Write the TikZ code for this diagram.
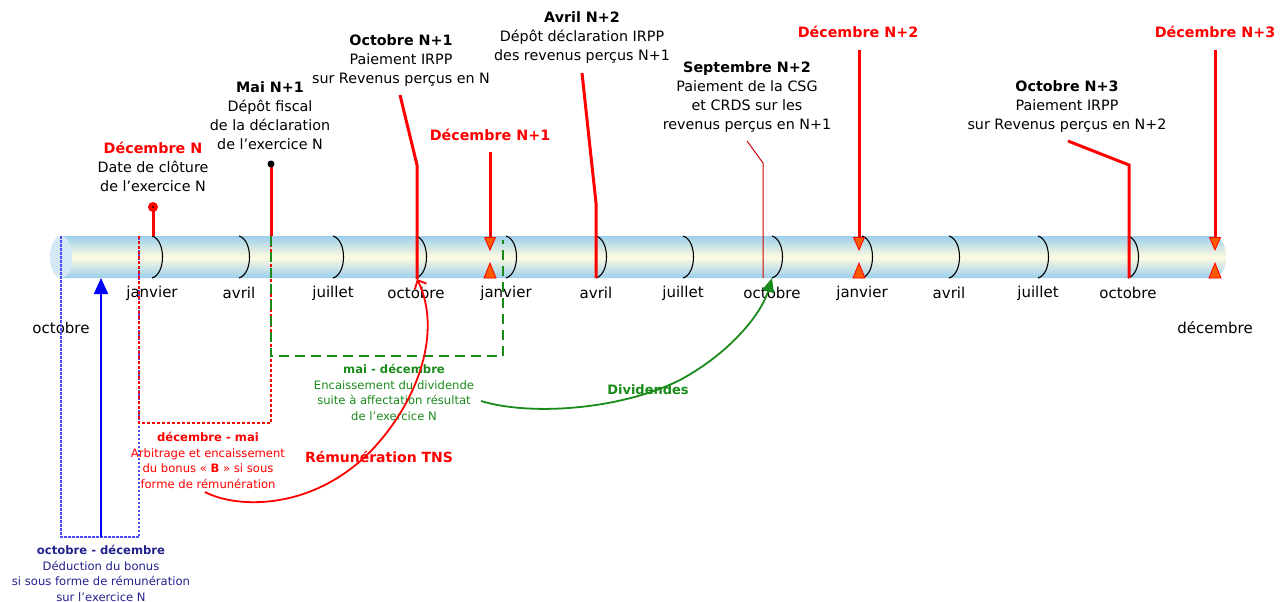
\documentclass[tikz,border=0pt]{standalone}
\usepackage{fontspec}
\setmainfont{DejaVu Sans}
\usetikzlibrary{arrows.meta,positioning}
\definecolor{ckred}{HTML}{FF0000}
\definecolor{ckdarkred}{HTML}{D00000}
\definecolor{ckgreen}{HTML}{1A8A1A}
\definecolor{cknavy}{HTML}{22228C}
\definecolor{ckblue}{HTML}{0000FF}
\definecolor{ckdot}{HTML}{4A4AFF}
\definecolor{tubeblue}{HTML}{9CCFEC}
\definecolor{tubecream}{HTML}{FFFBE0}
\definecolor{tubeend}{HTML}{D5E8F6}
\definecolor{flagfill}{HTML}{FF5A00}
\tikzset{
  evtext/.style={align=center, font=\fontsize{14.3}{19}\selectfont, inner sep=0pt, anchor=north},
  evtitle/.style={evtext, text=ckred, font=\fontsize{14.3}{19}\selectfont\bfseries},
  smalltext/.style={align=center, font=\fontsize{11.6}{15.7}\selectfont, inner sep=0pt, anchor=north},
  month/.style={font=\fontsize{15}{19}\selectfont, inner sep=0pt},
  pinline/.style={draw=ckred, line width=3pt},
  thinpin/.style={draw=ckdarkred, line width=1pt},
  decline/.style={draw=ckred, line width=3pt,
    -{Triangle[width=12pt,length=14pt,fill=flagfill,line width=0.8pt]}},
  flag/.style={fill=flagfill, draw=ckred, line width=0.8pt},
  bracket/.style={draw=black, line width=1.1pt},
  greenbox/.style={draw=ckgreen, line width=2.2pt, dash pattern=on 10pt off 6pt},
  redbox/.style={draw=ckred, line width=1.2pt, dash pattern=on 3pt off 2pt},
  bluebox/.style={draw=ckdot, line width=1.2pt, dash pattern=on 2.5pt off 1.5pt},
  tnsarrow/.style={draw=ckred, line width=1.8pt, -{Straight Barb[length=7pt,width=13pt]}},
  divarrow/.style={draw=ckgreen, line width=1.8pt, -{Triangle[length=14pt,width=12pt]}},
  bonusarrow/.style={draw=ckblue, line width=2pt, -{Triangle[length=16pt,width=14pt]}}
}

\begin{document}
\begin{tikzpicture}[x=1pt, y=-1pt]
  \useasboundingbox (0,0) rectangle (1287,602);

  % tube
  \shade[top color=tubeblue, bottom color=tubeblue, middle color=tubecream]
    (61,236) -- (1212,236) .. controls (1231,236) and (1231,278) .. (1212,278) -- (61,278) -- cycle;
  \fill[tubeend] (61,257) ellipse [x radius=11, y radius=21];

  \foreach \mx/\mn in {152/janvier, 239/avril, 333/juillet, 416/octobre,
                       506/janvier, 596/avril, 683/juillet, 772/octobre,
                       862/janvier, 949/avril, 1038/juillet, 1128/octobre} {
    \draw[bracket] (\mx,236) .. controls (\mx+14,240) and (\mx+14,274) .. (\mx,278);
    \node[month] (m\mx) at (\mx,293) {\mn};
  }
  \node[month] (oct0) at (61,328) {octobre};
  \node[month] (dec3) at (1215,328) {décembre};

  % periods
  \draw[bluebox] (61,236) -- (61,537) -| (139,236);
  \draw[redbox] (139,236) -- (139,423) -| (271,236);
  \coordinate (maiTop) at (271,164);
  \coordinate (maiTube) at (271,236);
  \draw[greenbox] (maiTube) -- (271,356) -| (503,240);

  \coordinate (bonusS) at (101,537);
  \coordinate (bonusE) at (101,278);
  \draw[bonusarrow] (bonusS) -- (bonusE);

  % events above the tube
  \node[evtext] (decN) at (153,142) {{\color{ckred}\textbf{Décembre N}}\\Date de clôture\\de l'exercice N};
  \coordinate (pinN) at (153,207);
  \coordinate (pinNb) at (153,236);
  \draw[pinline] (pinN) -- (pinNb);
  \fill[ckred] (pinN) circle (5);
  \fill[black] (pinN) circle (1);

  \node[evtext] (maiN1) at (270,81) {\textbf{Mai N+1}\\Dépôt fiscal\\de la déclaration\\de l'exercice N};
  \draw[pinline] (maiTop) -- (maiTube);
  \fill[black] (maiTop) circle (3.5);

  \node[evtext] (octN1) at (401,34) {\textbf{Octobre N+1}\\Paiement IRPP\\sur Revenus perçus en N};
  \coordinate (o1a) at (400,95);
  \coordinate (o1b) at (417,165);
  \coordinate (o1c) at (417,279);
  \draw[pinline] (o1a) -- (o1b) -- (o1c);

  \node[evtitle] (decN1) at (490,129) {Décembre N+1};
  \coordinate (d1a) at (490,152);
  \coordinate (d1b) at (490,251);
  \draw[decline] (d1a) -- (d1b);

  \node[evtext] (avrN2) at (582,11) {\textbf{Avril N+2}\\Dépôt déclaration IRPP\\des revenus perçus N+1};
  \coordinate (a2a) at (582,73);
  \coordinate (a2b) at (596,203);
  \coordinate (a2c) at (596,278);
  \draw[pinline] (a2a) -- (a2b) -- (a2c);

  \node[evtext] (sepN2) at (747,61) {\textbf{Septembre N+2}\\Paiement de la CSG\\et CRDS sur les\\revenus perçus en N+1};
  \coordinate (s2a) at (747,141);
  \coordinate (s2b) at (763,163);
  \coordinate (s2c) at (763,278);
  \draw[thinpin] (s2a) -- (s2b) -- (s2c);

  \node[evtitle] (decN2) at (858,26) {Décembre N+2};
  \coordinate (d2a) at (859,50);
  \coordinate (d2b) at (859,251);
  \draw[decline] (d2a) -- (d2b);

  \node[evtext] (octN3) at (1067,80) {\textbf{Octobre N+3}\\Paiement IRPP\\sur Revenus perçus en N+2};
  \coordinate (o3a) at (1068,141);
  \coordinate (o3b) at (1129,165);
  \coordinate (o3c) at (1129,278);
  \draw[pinline] (o3a) -- (o3b) -- (o3c);

  \node[evtitle] (decN3) at (1215,26) {Décembre N+3};
  \coordinate (d3a) at (1215,50);
  \coordinate (d3b) at (1215,251);
  \draw[decline] (d3a) -- (d3b);

  \foreach \fx in {490, 859, 1215}
    \filldraw[flag] (\fx-6,278) -- (\fx,263) -- (\fx+6,278) -- cycle;

  % periods below the tube
  \node[smalltext, text=ckred] (bonusB) at (208,432) {\textbf{décembre - mai}\\Arbitrage et encaissement\\du bonus « \textbf{B} » si sous\\forme de rémunération};
  \node[smalltext, text=ckgreen] (divN) at (394,364) {\textbf{mai - décembre}\\Encaissement du dividende\\suite à affectation résultat\\de l'exercice N};
  \node[smalltext, text=cknavy] (deduc) at (101,545) {\textbf{octobre - décembre}\\Déduction du bonus\\si sous forme de rémunération\\sur l'exercice N};

  % flows
  \coordinate (tnsS) at (205,492);
  \draw[tnsarrow] (tnsS) .. controls (235,508) and (310,512) .. (370,452)
    .. controls (420,400) and (442,330) .. (o1c);
  \node[text=ckred, font=\fontsize{14}{18}\selectfont\bfseries, inner sep=0pt] (tns) at (379,457) {Rémunération TNS};

  \coordinate (divS) at (481,401);
  \draw[divarrow] (divS) .. controls (530,416) and (620,410) .. (680,380)
    .. controls (732,352) and (762,312) .. (s2c -| m772);
  \node[text=ckgreen, font=\fontsize{13}{16}\selectfont\bfseries, inner sep=0pt] (divl) at (648,390) {Dividendes};
\end{tikzpicture}
\end{document}
